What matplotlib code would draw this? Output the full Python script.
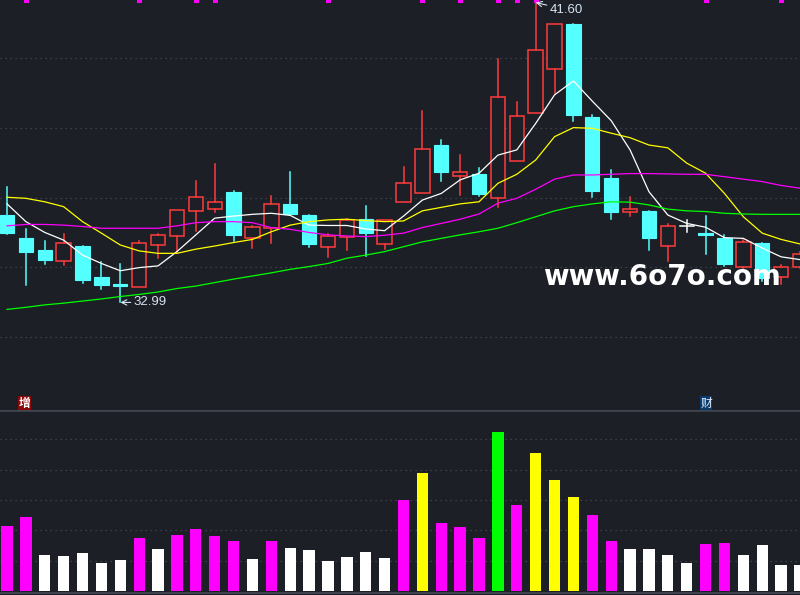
import numpy as np
import matplotlib
matplotlib.use("Agg")
from matplotlib import pyplot as plt
from matplotlib.patches import Rectangle

# daily candles
opens = [35.50, 34.84, 34.50, 34.19, 34.61, 33.72, 33.52, 33.44, 34.65, 34.91, 35.63, 35.68, 36.16, 34.85, 35.12,
         35.82, 35.50, 34.59, 34.88, 35.39, 34.68, 35.87, 36.12, 37.51, 36.61, 36.68, 35.98, 37.04, 38.42, 39.70,
         40.99, 38.32, 36.56, 35.60, 35.62, 34.62, 35.19, 34.98, 34.85, 34.00, 34.70, 33.71, 34.02]
highs = [36.31, 35.10, 34.75, 34.96, 34.62, 34.14, 34.09, 34.75, 34.96, 35.64, 36.48, 36.97, 36.19, 35.19, 36.05,
         36.74, 35.50, 34.96, 35.38, 35.76, 35.36, 36.89, 38.49, 37.65, 37.22, 36.84, 39.98, 38.75, 41.60, 40.98,
         40.99, 38.37, 36.79, 36.02, 35.62, 35.24, 35.36, 35.47, 34.93, 34.78, 34.70, 34.07, 34.45]
lows = [34.96, 33.49, 34.09, 34.07, 33.56, 33.39, 32.99, 33.44, 34.28, 34.42, 35.05, 35.60, 34.76, 34.56, 34.71,
        35.51, 34.59, 34.30, 34.50, 34.33, 34.52, 35.87, 36.12, 36.49, 36.08, 36.06, 35.74, 37.04, 38.42, 39.01,
        38.21, 36.03, 35.39, 35.48, 34.50, 34.19, 35.00, 34.38, 34.05, 33.97, 33.60, 33.53, 33.98]
closes = [34.99, 34.45, 34.21, 34.69, 33.64, 33.49, 33.46, 34.70, 34.92, 35.64, 36.01, 35.87, 34.93, 35.15, 35.81,
          35.54, 34.68, 34.91, 35.35, 34.99, 35.35, 36.41, 37.39, 36.74, 36.73, 36.11, 38.88, 38.33, 40.23, 40.98,
          38.38, 36.20, 35.60, 35.67, 34.85, 35.18, 35.19, 34.93, 34.09, 34.72, 33.68, 34.00, 34.37]

# moving average lines as drawn
ma5 = [35.82, 35.31, 35.00, 34.78, 34.35, 34.11, 33.90, 33.99, 34.04, 34.45, 34.93, 35.41, 35.47, 35.52, 35.55,
       35.49, 35.21, 35.20, 35.20, 35.10, 35.05, 35.47, 35.93, 36.12, 36.51, 36.70, 37.22, 37.37, 38.13, 38.95,
       39.35, 38.77, 38.21, 37.37, 36.17, 35.50, 35.26, 35.15, 34.85, 34.83, 34.55, 34.30, 34.22]
ma10 = [36.01, 35.98, 35.88, 35.74, 35.31, 34.98, 34.64, 34.47, 34.40, 34.40, 34.52, 34.61, 34.71, 34.80, 35.02,
        35.21, 35.31, 35.36, 35.38, 35.34, 35.31, 35.33, 35.62, 35.72, 35.82, 35.88, 36.41, 36.67, 37.08, 37.75,
        38.01, 37.99, 37.85, 37.72, 37.51, 37.43, 36.99, 36.70, 36.12, 35.45, 34.98, 34.80, 34.67]
ma20 = [35.19, 35.23, 35.23, 35.21, 35.17, 35.12, 35.12, 35.12, 35.12, 35.19, 35.28, 35.31, 35.31, 35.28, 35.14,
        35.09, 35.00, 34.93, 34.90, 34.88, 34.92, 34.98, 35.14, 35.26, 35.38, 35.53, 35.84, 35.98, 36.24, 36.53,
        36.65, 36.65, 36.67, 36.69, 36.69, 36.68, 36.67, 36.67, 36.60, 36.53, 36.46, 36.35, 36.27]
ma60 = [32.79, 32.85, 32.92, 32.97, 33.03, 33.09, 33.16, 33.22, 33.29, 33.39, 33.46, 33.56, 33.66, 33.75, 33.84,
        33.94, 34.02, 34.11, 34.26, 34.35, 34.45, 34.59, 34.73, 34.83, 34.93, 35.02, 35.12, 35.28, 35.45, 35.62,
        35.74, 35.82, 35.88, 35.87, 35.79, 35.67, 35.62, 35.60, 35.55, 35.53, 35.52, 35.52, 35.52]

volumes = [4.29, 4.88, 2.37, 2.31, 2.51, 1.85, 2.04, 3.49, 2.77, 3.69, 4.09, 3.63, 3.30, 2.11, 3.30,
           2.84, 2.70, 1.98, 2.24, 2.57, 2.18, 6.00, 7.78, 4.48, 4.22, 3.49, 10.48, 5.67, 9.10, 7.32,
           6.20, 5.01, 3.30, 2.77, 2.77, 2.37, 1.85, 3.10, 3.16, 2.37, 3.03, 1.71, 1.71]
vol_flags = ['m', 'm', 'w', 'w', 'w', 'w', 'w', 'm', 'w', 'm', 'm', 'm', 'm', 'w', 'm',
             'w', 'w', 'w', 'w', 'w', 'w', 'm', 'y', 'm', 'm', 'm', 'g', 'm', 'y', 'y',
             'y', 'm', 'm', 'w', 'w', 'w', 'w', 'm', 'm', 'w', 'w', 'w', 'w']
signal_days = [1, 7, 10, 11, 17, 22, 24, 26, 27, 28, 37, 41]

bg = '#1c1f26'
up_col = '#ff3b3b'
down_col = '#54ffff'
flag_cols = {'m': '#ff00ff', 'w': '#ffffff', 'y': '#ffff00', 'g': '#00ff00'}

n = len(closes)
x = np.arange(n)

fig = plt.figure(figsize=(8, 5.95), dpi=100, facecolor=bg)
ax = fig.add_axes([0, 185 / 595, 1, 410 / 595], facecolor=bg)
axv = fig.add_axes([0, 0, 1, 185 / 595], facecolor=bg)

# price panel
for lvl in [32, 34, 36, 38, 40]:
    ax.axhline(lvl, color='#464a54', lw=0.9, ls=(0, (1, 3)), zorder=0)

w = 0.76
for i in range(n):
    o, h, l, c = opens[i], highs[i], lows[i], closes[i]
    if c > o:
        ax.add_patch(Rectangle((i - w / 2, o), w, c - o, facecolor=bg, edgecolor=up_col, lw=1.1, zorder=3))
        ax.plot([i, i], [c, h], color=up_col, lw=1.1, zorder=3)
        ax.plot([i, i], [l, o], color=up_col, lw=1.1, zorder=3)
    elif c < o:
        ax.add_patch(Rectangle((i - w / 2, c), w, o - c, facecolor=down_col, edgecolor=down_col, lw=0.8, zorder=3))
        ax.plot([i, i], [l, h], color=down_col, lw=1.1, zorder=2)
    else:
        ax.plot([i - w / 2, i + w / 2], [o, o], color='white', lw=1.1, zorder=3)
        ax.plot([i, i], [l, h], color='white', lw=1.1, zorder=3)

ax.plot(x, ma5, color='white', lw=0.9, zorder=4)
ax.plot(x, ma10, color='#ffff00', lw=0.9, zorder=4)
ax.plot(x, ma20, color='#ff00ff', lw=0.9, zorder=4)
ax.plot(x, ma60, color='#00ff00', lw=0.9, zorder=4)

# signal ticks along the top edge
ax.plot(signal_days, [1.0] * len(signal_days), 's', color='#ff00ff', ms=3.6, mew=0,
        transform=ax.get_xaxis_transform(), zorder=5)

hi = int(np.argmax(highs))
lo = int(np.argmin(lows))
lab_col = '#d6e4f2'
ax.annotate(f'{highs[hi]:.2f}', xy=(hi, highs[hi]), xytext=(10, -5), textcoords='offset points',
            color=lab_col, fontsize=9.5, family='Liberation Sans', va='center', ha='left',
            arrowprops=dict(arrowstyle='->', color=lab_col, lw=0.8, shrinkA=0, shrinkB=0), zorder=6)
ax.annotate(f'{lows[lo]:.2f}', xy=(lo, lows[lo]), xytext=(9.5, 0), textcoords='offset points',
            color=lab_col, fontsize=9.5, family='Liberation Sans', va='center', ha='left',
            arrowprops=dict(arrowstyle='->', color=lab_col, lw=0.8, shrinkA=0, shrinkB=0), zorder=6)

ax.set_xlim(-0.371, 42.0)
ax.set_ylim(29.902, 41.674)
ax.axis('off')

# volume panel
for lvl in [2, 4, 6, 8, 10]:
    axv.axhline(lvl, color='#464a54', lw=0.9, ls=(0, (1, 3)), zorder=0)
axv.bar(x, volumes, width=0.6, color=[flag_cols[f] for f in vol_flags], zorder=3)
axv.axhline(11.93, color='#3e434e', lw=2.0, zorder=4)
axv.axhline(-0.13, color='#3e434e', lw=1.5, zorder=4)
axv.set_xlim(-0.371, 42.0)
axv.set_ylim(-0.264, 11.93)
axv.axis('off')

# small tags above the volume panel
fig.text(24.5 / 800, 1 - 403 / 595, '增', color='white', fontsize=8.5, fontweight='bold',
         family=['Noto Sans CJK SC', 'DejaVu Sans'],
         ha='center', va='center', bbox=dict(facecolor='#8a0a0a', edgecolor='none', pad=0.4))
fig.text(706 / 800, 1 - 403 / 595, '财', color='#e8f0ff', fontsize=8.5,
         family=['Noto Sans CJK SC', 'DejaVu Sans'],
         ha='center', va='center', bbox=dict(facecolor='#0b3a6e', edgecolor='none', pad=0.4))

# watermark
fig.text(543 / 800, 1 - 285 / 595, 'www.6o7o.com', color='white', fontsize=20, fontweight='bold',
         family='DejaVu Sans', ha='left', va='baseline', zorder=10)

fig.savefig('out.png', dpi=100, facecolor=bg)
